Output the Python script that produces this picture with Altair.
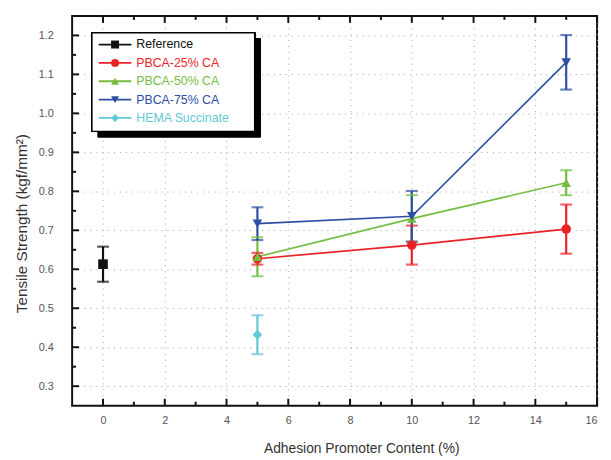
import altair as alt
import pandas as pd

# ---- data ----
series = ["Reference", "PBCA-25% CA", "PBCA-50% CA", "PBCA-75% CA", "HEMA Succinate"]
colors = ["#111111", "#ea2228", "#74bd3f", "#2d4ea3", "#62c8d6"]
shapes = ["square", "circle", "triangle-up", "triangle-down", "diamond"]

ref_x = [0]
ref_y = [0.613]
ref_err = [0.045]

p25_x = [5, 10, 15]
p25_y = [0.627, 0.662, 0.703]
p25_err = [0.015, 0.05, 0.063]

p50_x = [5, 10, 15]
p50_y = [0.632, 0.73, 0.822]
p50_err = [0.05, 0.06, 0.032]

p75_x = [5, 10, 15]
p75_y = [0.717, 0.736, 1.131]
p75_err = [0.042, 0.065, 0.07]

hema_x = [5]
hema_y = [0.432]
hema_err = [0.05]

x_major = [0, 2, 4, 6, 8, 10, 12, 14, 16]
x_minor = [1, 3, 5, 7, 9, 11, 13, 15]
y_major = [0.3, 0.4, 0.5, 0.6, 0.7, 0.8, 0.9, 1.0, 1.1, 1.2]
y_minor = [0.35, 0.45, 0.55, 0.65, 0.75, 0.85, 0.95, 1.05, 1.15]

# ---- tables ----
rows = []
for name, xs_, ys_, es_ in [
    (series[0], ref_x, ref_y, ref_err),
    (series[1], p25_x, p25_y, p25_err),
    (series[2], p50_x, p50_y, p50_err),
    (series[3], p75_x, p75_y, p75_err),
    (series[4], hema_x, hema_y, hema_err),
]:
    for xv, yv, ev in zip(xs_, ys_, es_):
        rows.append({"series": name, "x": xv, "y": yv, "lo": yv - ev, "hi": yv + ev})
df = pd.DataFrame(rows)

leg = pd.DataFrame({"series": series, "color": colors, "shape": shapes,
                    "rank": list(range(len(series)))})

W, H = 532, 395
XD = [-1, 16]
YD = [0.25, 1.25]

xs = alt.Scale(domain=XD, nice=False, zero=False)
ys = alt.Scale(domain=YD, nice=False, zero=False)
cs = alt.Scale(domain=series, range=colors)
ss = alt.Scale(domain=series, range=shapes)

grid_vals_x = sorted(x_major + x_minor)
grid_vals_y = sorted(y_major + y_minor)

base = alt.Chart(df)

xaxis = alt.Axis(values=grid_vals_x, labelExpr="datum.value % 2 === 0 ? datum.label : ''",
                 grid=True, gridDash=[1, 5], gridColor="#a5a5a5", gridWidth=1,
                 ticks=False, tickSize=0, domain=False, labelPadding=9,
                 labelFontSize=11, labelColor="#555555", labelFont="Liberation Sans",
                 title="Adhesion Promoter Content (%)", titleFont="Liberation Sans",
                 titleFontSize=14, titleFontWeight="normal", titleColor="#333333",
                 titleX=293, titleY=43, titleBaseline="middle", titleAlign="center")
yaxis = alt.Axis(values=grid_vals_y, format=".1f",
                 labelExpr="abs(round(datum.value*100) % 10) < 0.5 ? datum.label : ''",
                 grid=True, gridDash=[1, 5], gridColor="#a5a5a5", gridWidth=1,
                 ticks=False, tickSize=0, domain=False, labelPadding=19,
                 labelFontSize=11, labelColor="#555555", labelFont="Liberation Sans",
                 title="Tensile Strength (kgf/mm²)", titleFont="Liberation Sans",
                 titleFontSize=15.5, titleFontWeight="normal", titleColor="#333333",
                 titleX=-51, titleY=210, titleBaseline="middle", titleAlign="center",
                 titleAngle=-90)

lines = base.transform_filter(
    alt.FieldOneOfPredicate(field="series", oneOf=series[1:4])
).mark_line(strokeWidth=1.7).encode(
    x=alt.X("x:Q", scale=xs, axis=xaxis),
    y=alt.Y("y:Q", scale=ys, axis=yaxis),
    color=alt.Color("series:N", scale=cs, legend=None),
    detail="series:N",
)

err = base.mark_rule(strokeWidth=2.2).encode(
    x=alt.X("x:Q", scale=xs),
    y=alt.Y("lo:Q", scale=ys),
    y2="hi:Q",
    color=alt.Color("series:N", scale=cs, legend=None),
)
cap_lo = base.mark_tick(orient="horizontal", size=12, thickness=2.2).encode(
    x=alt.X("x:Q", scale=xs), y=alt.Y("lo:Q", scale=ys),
    color=alt.Color("series:N", scale=cs, legend=None))
cap_hi = base.mark_tick(orient="horizontal", size=12, thickness=2.2).encode(
    x=alt.X("x:Q", scale=xs), y=alt.Y("hi:Q", scale=ys),
    color=alt.Color("series:N", scale=cs, legend=None))

pts = base.mark_point(filled=True, size=95, opacity=1).encode(
    x=alt.X("x:Q", scale=xs),
    y=alt.Y("y:Q", scale=ys),
    color=alt.Color("series:N", scale=cs, legend=None),
    shape=alt.Shape("series:N", scale=ss, legend=None),
)

# inner ticks
tx_major = pd.DataFrame({"v": x_major})
tx_minor = pd.DataFrame({"v": x_minor})
ty_major = pd.DataFrame({"v": y_major})
ty_minor = pd.DataFrame({"v": y_minor})

def xticks(d, length):
    b = alt.Chart(d).mark_rule(color="#111111", strokeWidth=2)
    bot = b.encode(x=alt.X("v:Q", scale=xs), y=alt.value(H), y2=alt.value(H - length))
    top = b.encode(x=alt.X("v:Q", scale=xs), y=alt.value(0), y2=alt.value(length))
    return bot + top

def yticks(d, length):
    b = alt.Chart(d).mark_rule(color="#111111", strokeWidth=2)
    return b.encode(y=alt.Y("v:Q", scale=ys), x=alt.value(0), x2=alt.value(length))

ticks = xticks(tx_major, 7) + xticks(tx_minor, 4) + yticks(ty_major, 7) + yticks(ty_minor, 4)

# legend box
box_shadow = alt.Chart(leg).mark_rect(color="#000000").encode(
    x=alt.value(26), x2=alt.value(191), y=alt.value(23), y2=alt.value(123))
box = alt.Chart(leg).mark_rect(fill="white", stroke="#000000", strokeWidth=1.5).encode(
    x=alt.value(20), x2=alt.value(185), y=alt.value(17), y2=alt.value(117))

legb = alt.Chart(leg).transform_calculate(
    py=f"{YD[1]} - (29 + 18.6*datum.rank) / {H} * {YD[1]-YD[0]}"
)
leg_line = legb.mark_rule(strokeWidth=1.8).encode(
    x=alt.value(27), x2=alt.value(60),
    y=alt.Y("py:Q", scale=ys),
    color=alt.Color("color:N", scale=None, legend=None),
)
leg_pt = legb.mark_point(filled=True, size=65, opacity=1).encode(
    x=alt.value(43.5),
    y=alt.Y("py:Q", scale=ys),
    color=alt.Color("color:N", scale=None, legend=None),
    shape=alt.Shape("shape:N", scale=None, legend=None),
)
leg_txt = legb.mark_text(align="left", baseline="middle", fontSize=12.5,
                         font="Liberation Sans").encode(
    x=alt.value(65),
    y=alt.Y("py:Q", scale=ys),
    text="series:N",
    color=alt.Color("color:N", scale=None, legend=None),
)

chart = alt.layer(
    lines, err, cap_lo, cap_hi, pts, ticks,
    box_shadow, box, leg_line, leg_pt, leg_txt
).properties(
    width=W, height=H,
    autosize=alt.AutoSizeParams(type="none"),
    padding={"left": 65, "top": 5, "right": 6, "bottom": 50},
).configure_view(stroke="#111111", strokeWidth=2)

chart.save("out.html", embed_options={"renderer": "svg", "actions": False})
